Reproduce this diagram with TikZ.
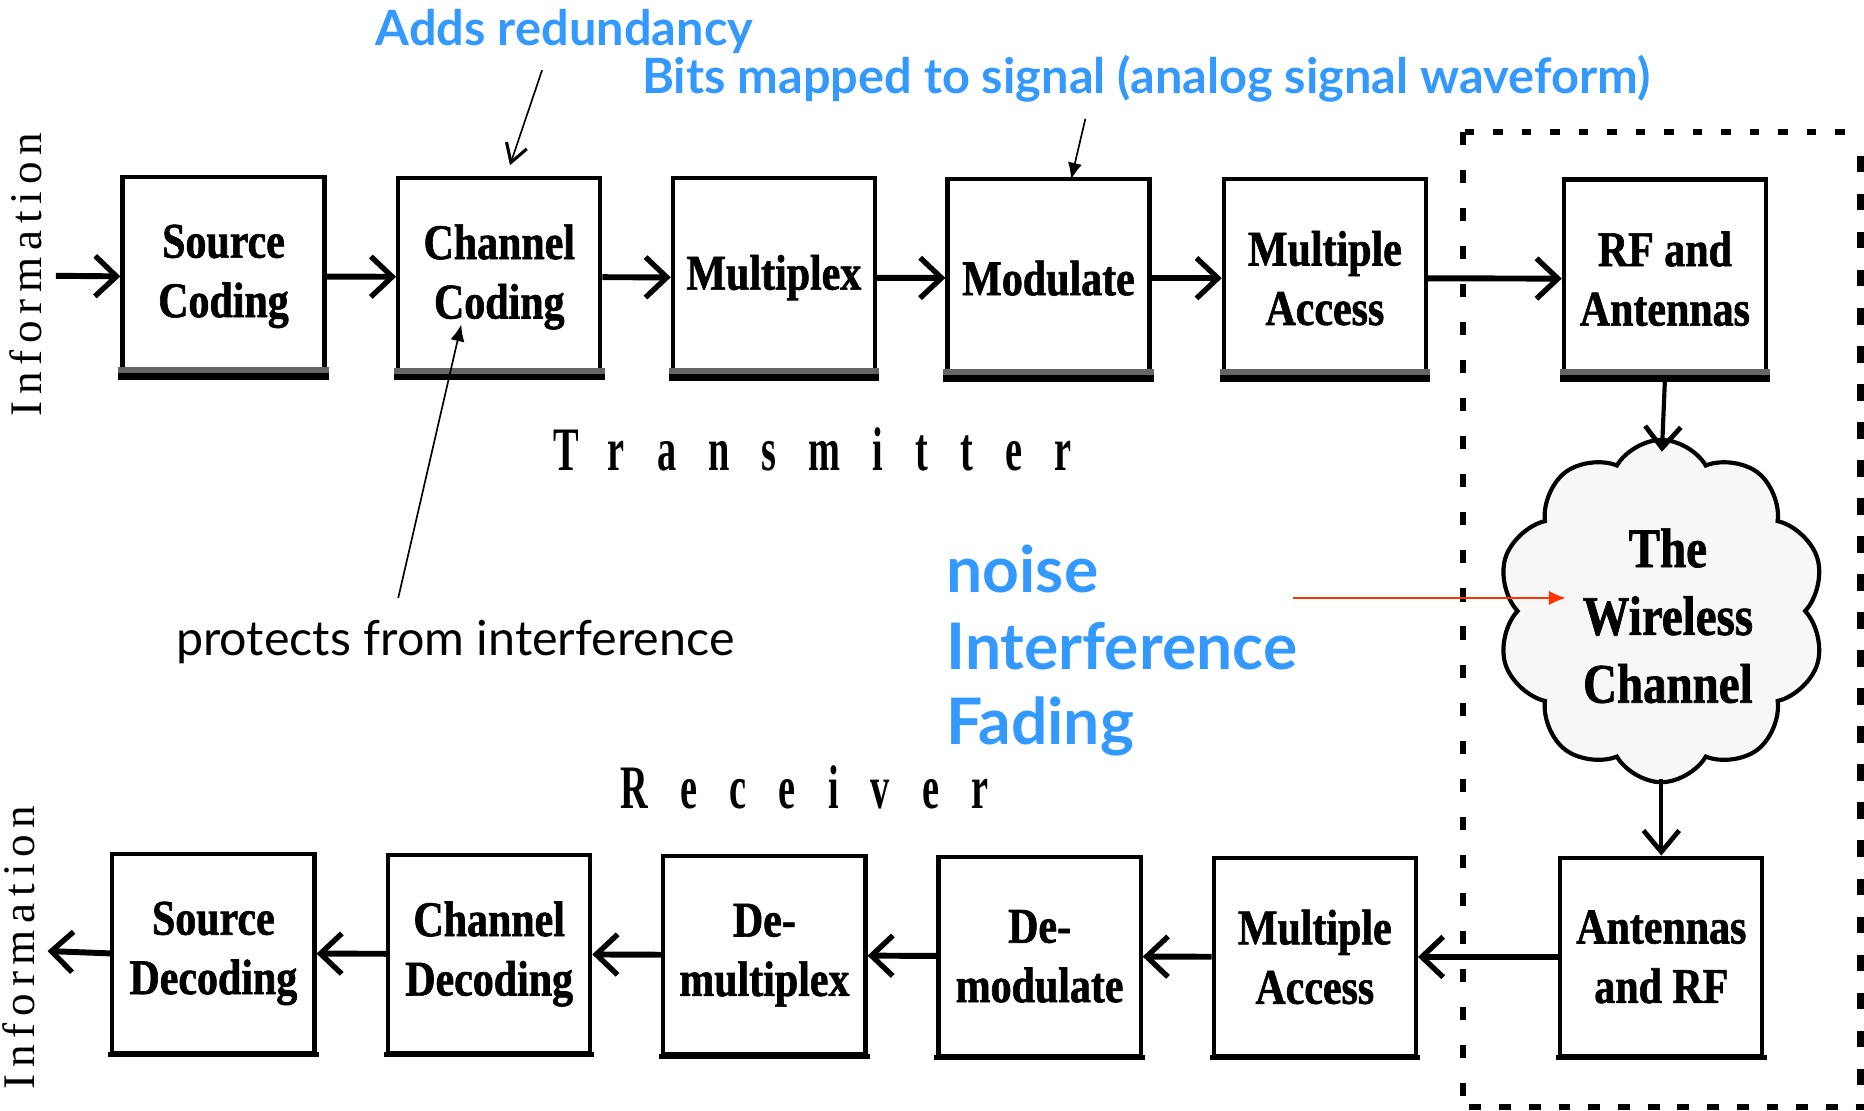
\documentclass[tikz,border=0pt]{standalone}
\usepackage{fontspec}
\usetikzlibrary{arrows.meta,shapes.symbols}
\newfontfamily\boxfont[FakeStretch=0.84,BoldFeatures={FakeBold=1.2}]{Liberation Serif}
\newfontfamily\lblfont[FakeStretch=0.62,LetterSpace=52]{Liberation Serif}
\newfontfamily\infofont[LetterSpace=15]{Liberation Serif}
\newfontfamily\annfont{Lato}
\definecolor{annblue}{RGB}{51,153,255}
\definecolor{annred}{RGB}{255,51,0}
\tikzset{
  blk/.style={draw, line width=3.5pt, fill=white, minimum width=170pt, minimum height=167pt,
    align=center, inner sep=0pt, font=\boxfont\bfseries\fontsize{42}{50}\selectfont},
  flow/.style={line width=5pt, -{Straight Barb[length=18pt,width=34pt,line width=4.5pt]}},
  vflow/.style={line width=3.5pt, -{Straight Barb[length=18pt,width=30pt,line width=4pt]}},
  annopen/.style={line width=1.4pt, -{Straight Barb[length=15pt,width=18pt,line width=2.6pt]}},
  annfill/.style={line width=1.4pt, -{Latex[length=14pt,width=12pt]}},
  bluetxt/.style={text=annblue, anchor=base west, inner sep=0pt, font=\annfont\bfseries\fontsize{41}{44}\selectfont},
  bigblue/.style={text=annblue, anchor=base west, inner sep=0pt, font=\annfont\bfseries\fontsize{54}{60}\selectfont},
  spaced/.style={anchor=base west, inner sep=0pt, font=\lblfont\bfseries\fontsize{52}{60}\selectfont},
  infolbl/.style={rotate=90, inner sep=0pt, font=\infofont\fontsize{38}{40}\selectfont},
}
\begin{document}
\begin{tikzpicture}[x=1pt,y=-1pt]
\useasboundingbox (0,0) rectangle (1568,934);

% dashed enclosure
\draw[line width=5.5pt, dash pattern=on 8pt off 16pt] (1232,111) -- (1568,111);
\draw[line width=5pt, dash pattern=on 11pt off 21pt] (1231,111) -- (1231,931);
\draw[line width=6pt, dash pattern=on 14pt off 18pt] (1565,131) -- (1565,920);
\draw[line width=5pt, dash pattern=on 10pt off 15pt] (1236,931) -- (1568,931);

% top row
\node[blk] (sc)  at (188,232.5)  {Source\\Coding};
\node[blk] (cc)  at (420,233)    {Channel\\Coding};
\node[blk] (mux) at (651,233.5)  {Multiplex};
\node[blk] (mod) at (882,234)    {Modulate};
\node[blk] (ma)  at (1114.5,234) {Multiple\\Access};
\node[blk] (rf)  at (1400.5,234.5) {RF and\\Antennas};

% bottom row
\node[blk] (sd)   at (179.5,802)  {Source\\Decoding};
\node[blk] (cd)   at (411.5,802.5){Channel\\Decoding};
\node[blk] (dmux) at (643,803.5)  {De-\\multiplex};
\node[blk] (dmod) at (874.5,804.5){De-\\modulate};
\node[blk] (bma)  at (1106,805)   {Multiple\\Access};
\node[blk] (arf)  at (1397.5,805) {Antennas\\and RF};

% heavier bottom edges
\foreach \n in {sc,cc,mux,mod,ma,rf}{
  \fill[black!60] ([xshift=-1.75pt]\n.south west) rectangle ([xshift=1.75pt,yshift=9pt]\n.south east);
  \fill[black] ([xshift=-1.75pt,yshift=-1.75pt]\n.south west) rectangle ([xshift=1.75pt,yshift=4pt]\n.south east);
}
\foreach \n in {sd,cd,dmux,dmod,bma,arf}{
  \fill[black] ([xshift=-1.75pt,yshift=-1.75pt]\n.south west) rectangle ([xshift=1.75pt,yshift=2.5pt]\n.south east);
}

% cloud
\node[cloud, cloud puffs=10, cloud puff arc=120, aspect=0.95, draw, line width=3.5pt,
      fill=black!3, minimum width=276pt, minimum height=288pt, inner sep=0pt] (wc) at (1397.5,514) {};
\node[align=center, inner sep=0pt, font=\boxfont\bfseries\fontsize{47}{57}\selectfont] (wct) at (1403,518) {The\\Wireless\\Channel};

% Information labels
\node[infolbl] (infotop) at (22,231) {Information};
\node[infolbl] (infobot) at (16,797) {Information};
\coordinate (infoin) at (47,232);
\coordinate (infoout) at (40,800);

% Transmitter / Receiver
\node[spaced] (tx) at (465,396) {Transmitter};
\node[spaced] (rx) at (522,680) {Receiver};

% flow arrows top
\draw[flow] (infoin) -- (sc.west);
\draw[flow] (sc) -- (cc);
\draw[flow] (cc) -- (mux);
\draw[flow] (mux) -- (mod);
\draw[flow] (mod) -- (ma);
\draw[flow] (ma) -- (rf);
% vertical
\coordinate (cloudin) at (1398,380);
\coordinate (cloudout) at (1397.5,655);
\draw[vflow] (rf.south) -- (cloudin);
\draw[vflow] (cloudout) -- (arf.north);
% flow arrows bottom
\draw[flow] (arf) -- (bma);
\draw[flow] (bma) -- (dmod);
\draw[flow] (dmod) -- (dmux);
\draw[flow] (dmux) -- (cd);
\draw[flow] (cd) -- (sd);
\draw[flow] (sd.west) -- (infoout);

% annotations
\node[bluetxt] (redund) at (316,38) {Adds redundancy};
\node[bluetxt] (bits) at (540,79) {Bits mapped to signal (analog signal waveform)};
\node[bigblue] (noise) at (796,498) {noise};
\node[bigblue] (interf) at (796,563) {Interference};
\node[bigblue] (fading) at (796,626) {Fading};
\node[anchor=base west, inner sep=0pt, font=\annfont\fontsize{40.7}{44}\selectfont] (protect) at (148,551) {protects from interference};

\coordinate (a1s) at (456,59);
\coordinate (a1e) at (429,139);
\draw[annopen] (a1s) -- (a1e);
\coordinate (a2s) at (913,100);
\coordinate (a2e) at (901,151);
\draw[annfill] (a2s) -- (a2e);
\coordinate (a3s) at (335,503);
\coordinate (a3e) at (388,273);
\draw[annfill] (a3s) -- (a3e);
\coordinate (reds) at (1088,503);
\coordinate (rede) at (1317,503);
\draw[annfill, draw=annred, fill=annred, line width=1.3pt] (reds) -- (rede);
\end{tikzpicture}
\end{document}
